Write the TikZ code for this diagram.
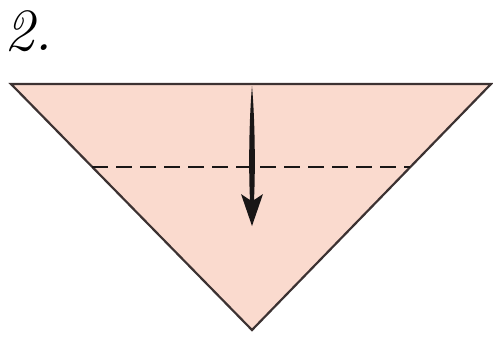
\documentclass[tikz,border=0pt]{standalone}
\usepackage{fontspec}
\definecolor{paper}{RGB}{250,218,206}
\definecolor{edge}{RGB}{60,50,50}
\definecolor{ink}{RGB}{25,22,22}
\tikzset{
  sheet/.style={fill=paper,draw=edge,line width=1.1pt,line join=miter},
  foldline/.style={draw=ink,line width=1.3pt,dash pattern=on 8pt off 4pt},
  label/.style={font=\fontsize{30}{30}\selectfont\itshape,inner sep=0pt,anchor=base west}
}
\begin{document}
\begin{tikzpicture}[x=0.5pt,y=-0.5pt]
\useasboundingbox (0,0) rectangle (493,338);
\coordinate (tl) at (11,84);
\coordinate (tr) at (491,84);
\coordinate (bt) at (252,330);
\path[sheet] (tl) -- (tr) -- (bt) -- cycle;
\coordinate (dl) at (92,167);
\coordinate (dr) at (410,167);
\draw[foldline] (dl) -- (dr);
% tapered arrow
\fill[ink] (252,86) .. controls (255,120) and (255.5,170) .. (254,200)
  -- (263,194) -- (252,226) -- (241,194) -- (250,200)
  .. controls (248.5,170) and (249,120) .. (252,86) -- cycle;
\node[label] (num) at (4,50) {2.};
\end{tikzpicture}
\end{document}
